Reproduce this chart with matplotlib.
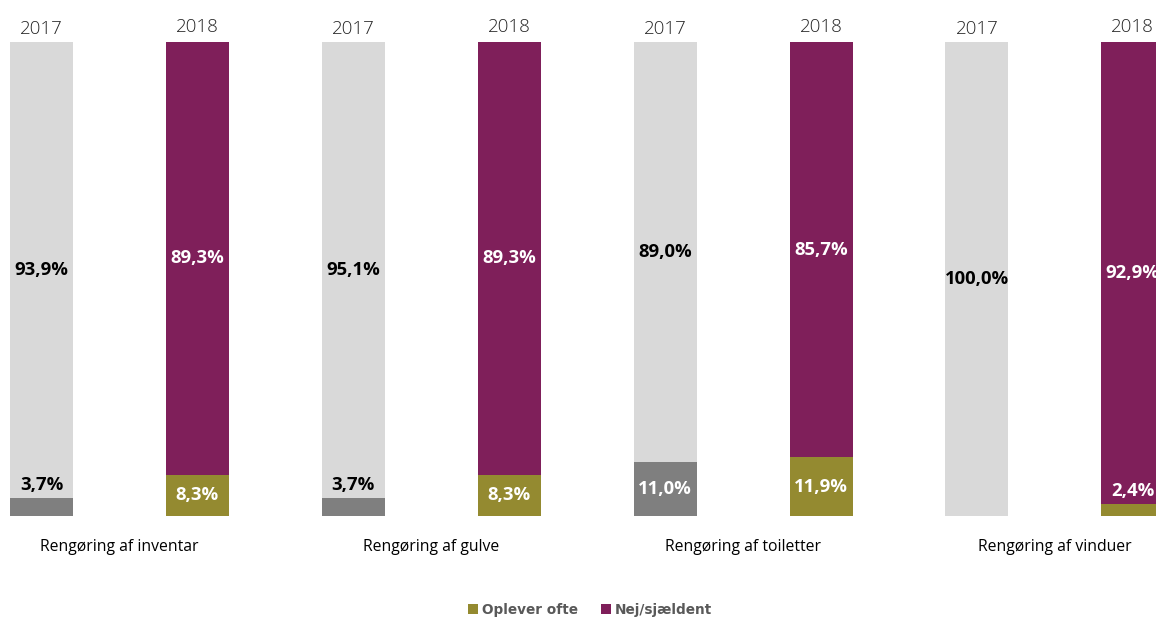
import matplotlib
matplotlib.use('Agg')
import matplotlib.pyplot as plt
from matplotlib.patches import Patch

categories = ["Rengøring af inventar", "Rengøring af gulve",
              "Rengøring af toiletter", "Rengøring af vinduer"]
years = ["2017", "2018"]
oplever_ofte_2017 = [3.7, 3.7, 11.0, 0.0]
nej_2017 = [93.9, 95.1, 89.0, 100.0]
oplever_ofte_2018 = [8.3, 8.3, 11.9, 2.4]
nej_2018 = [89.3, 89.3, 85.7, 92.9]
legend_labels = ["Oplever ofte", "Nej/sjældent"]

C_LIGHT = "#d9d9d9"
C_DARK = "#7f7f7f"
C_OLIVE = "#948a30"
C_PURPLE = "#7f1f5a"

W, H = 1156, 619
fig = plt.figure(figsize=(W / 100, H / 100), dpi=100)
YMAX = 95.8
spacing = 155.9
x0 = 41.5
xl = -x0 / spacing
xr = (W - x0) / spacing
ax = fig.add_axes([0, (H - 516) / H, 1, (516 - 42) / H])
ax.set_xlim(xl, xr)
ax.set_ylim(0, YMAX)
ax.axis('off')

FONT = "Open Sans"
bw = 63 / spacing


def fmt(v):
    return f"{v:.1f}".replace('.', ',') + '%'


series = [
    (oplever_ofte_2017, nej_2017, C_DARK, C_LIGHT, "black"),
    (oplever_ofte_2018, nej_2018, C_OLIVE, C_PURPLE, "white"),
]

for g, cat in enumerate(categories):
    for j, (bot, top, cb, ct, topcol) in enumerate(series):
        x = 2 * g + j
        b = bot[g]
        t = top[g]
        if b > 0:
            ax.bar(x, b, width=bw, color=cb, linewidth=0)
        ax.bar(x, 100 - b, bottom=b, width=bw, color=ct, linewidth=0)
        ax.text(x, (b + YMAX) / 2, fmt(t), ha='center', va='center',
                fontsize=13.3, fontweight='bold', color=topcol, family=FONT)
        if b > 0:
            if b >= 5:
                ax.text(x, b / 2, fmt(b), ha='center', va='center',
                        fontsize=13.3, fontweight='bold', color='white',
                        family=FONT)
            else:
                ax.text(x, b + 2.6, fmt(b), ha='center', va='center',
                        fontsize=13.3, fontweight='bold', color=topcol,
                        family=FONT)
        ax.annotate(years[j], xy=(x, YMAX), xycoords='data',
                    xytext=(0, 6 if j == 0 else 7.5), textcoords='offset points',
                    ha='center', va='baseline', fontsize=13.5,
                    color='#262626', family=FONT, fontweight='light',
                    annotation_clip=False)
    ax.annotate(cat, xy=(2 * g + 0.5, 0), xycoords='data',
                xytext=(0, -22.5), textcoords='offset points',
                ha='center', va='center', fontsize=11.3, color='black',
                family=FONT, annotation_clip=False)

handles = [Patch(facecolor=C_OLIVE, edgecolor='none'),
           Patch(facecolor=C_PURPLE, edgecolor='none')]
fig.legend(handles, legend_labels, loc='center',
           bbox_to_anchor=(590 / W, 1 - 610 / H), ncol=2, frameon=False,
           handlelength=0.75, handleheight=0.75, handletextpad=0.3,
           columnspacing=1.7,
           prop={'family': 'DejaVu Sans', 'weight': 'bold', 'size': 9.8},
           labelcolor='#595959')

fig.savefig("out.png", dpi=100)
